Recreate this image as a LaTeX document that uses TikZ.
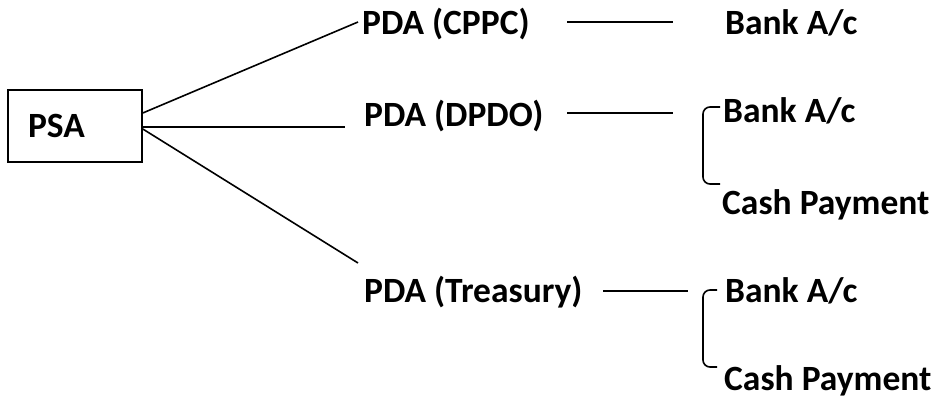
\documentclass[tikz,border=0pt]{standalone}
\usepackage{fontspec}
\setmainfont{Carlito}
\begin{document}
\begin{tikzpicture}[x=1pt,y=-1pt,
  lbl/.style={anchor=base west,inner sep=0pt,font=\bfseries\fontsize{35.5}{40}\selectfont},
  ln/.style={line width=1.6pt},
  brk/.style={line width=1.6pt,rounded corners=7pt}]
\useasboundingbox (0,0) rectangle (932,398);
% PSA box
\node[draw,line width=1.6pt,minimum width=134pt,minimum height=72pt,text width=94pt,inner xsep=20pt,align=left,font=\bfseries\fontsize{35.5}{40}\selectfont] (psa) at (75,126) {PSA};
% labels
\node[lbl] (cppc) at (362,35) {PDA (CPPC)};
\node[lbl] (bank1) at (725,35) {Bank A/c};
\node[lbl] (dpdo) at (364,127) {PDA (DPDO)};
\node[lbl] (bank2) at (723,123) {Bank A/c};
\node[lbl] (cash2) at (722,215) {Cash Payment};
\node[lbl] (tres) at (364,302) {PDA (Treasury)};
\node[lbl] (bank3) at (725,302) {Bank A/c};
\node[lbl] (cash3) at (724,390) {Cash Payment};
% free ends
\coordinate (e1) at (358,22);
\coordinate (e2) at (345,127);
\coordinate (e3) at (358,263);
\coordinate (a1) at (567,22);  \coordinate (b1) at (673,22);
\coordinate (a2) at (567,113); \coordinate (b2) at (673,113);
\coordinate (a3) at (603,291); \coordinate (b3) at (688,291);
% connectors
\draw[ln] ([yshift=13pt]psa.east) -- (e1);
\draw[ln] ([yshift=-1pt]psa.east) -- (e2);
\draw[ln] ([yshift=-3pt]psa.east) -- (e3);
\draw[ln] (a1) -- (b1);
\draw[ln] (a2) -- (b2);
\draw[ln] (a3) -- (b3);
% brackets
\coordinate (t2) at (720,107); \coordinate (u2) at (720,184);
\coordinate (t3) at (717,290); \coordinate (u3) at (717,367);
\draw[brk] (t2) -- (703,107) -- (703,184) -- (u2);
\draw[brk] (t3) -- (703,290) -- (703,367) -- (u3);
\end{tikzpicture}
\end{document}
